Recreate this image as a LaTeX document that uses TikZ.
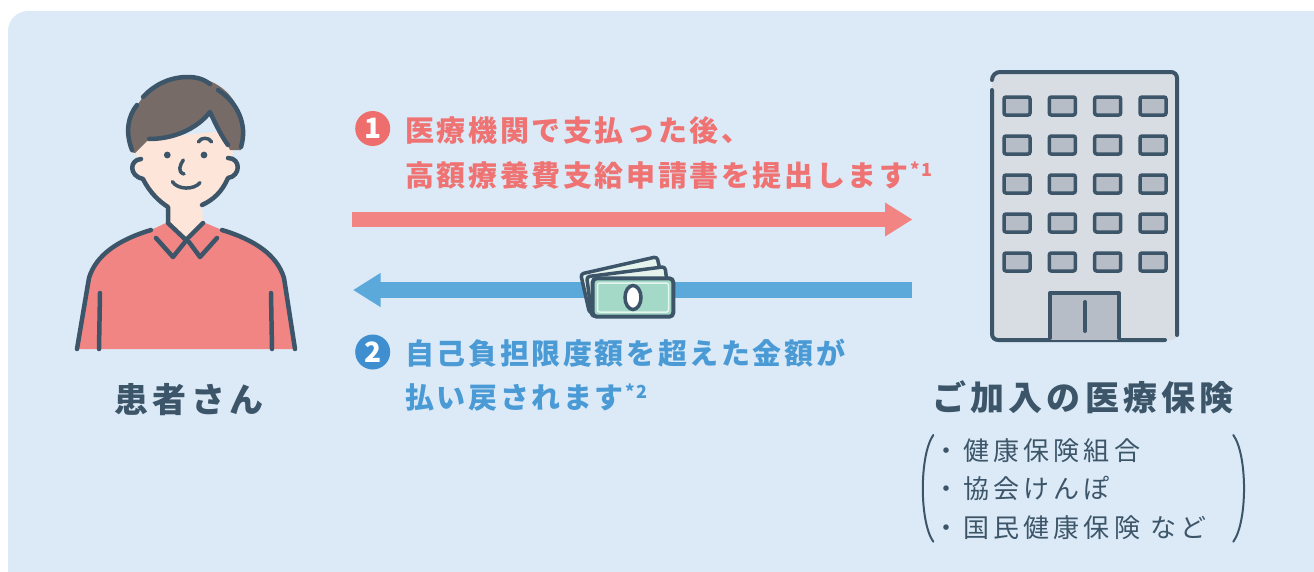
\documentclass[tikz,border=0pt]{standalone}
\usepackage{fontspec}
\usetikzlibrary{arrows.meta}
\newfontfamily\jpmain{Noto Sans CJK JP}[LetterSpace=9]
\newfontfamily\jpwide{Noto Sans CJK JP}[LetterSpace=12]
\newfontfamily\jplist{Noto Sans CJK JP}[LetterSpace=16]
\newfontfamily\jpnum{Noto Sans CJK JP}

\definecolor{bgblue}{HTML}{DBEAF6}
\definecolor{pinkarrow}{HTML}{F28584}
\definecolor{pinktext}{HTML}{EF7373}
\definecolor{pinkdot}{HTML}{EE6E6E}
\definecolor{bluearrow}{HTML}{5BA8DB}
\definecolor{bluetext}{HTML}{4A9AD6}
\definecolor{bluedot}{HTML}{3E8ED0}
\definecolor{ink}{HTML}{3C5569}
\definecolor{hair}{HTML}{776B67}
\definecolor{skin}{HTML}{FDE6D9}
\definecolor{shirt}{HTML}{F18584}
\definecolor{bldg}{HTML}{D8DCE3}
\definecolor{win}{HTML}{B6BDC7}
\definecolor{mint}{HTML}{A5D9C7}
\definecolor{billback}{HTML}{E6F3EC}

\tikzset{
  outline/.style={draw=ink, line width=4.5pt, line cap=round, line join=round},
  bline/.style={draw=ink, line width=4pt, line cap=round, line join=round},
  window/.style={draw=ink, fill=win, line width=3.5pt, rounded corners=2pt},
  steptext/.style={anchor=base west, inner sep=0pt, font=\jpmain\bfseries\fontsize{29}{35}\selectfont},
  numdot/.style={circle, minimum size=35pt, inner sep=0pt, text=white, font=\jpnum\bfseries\fontsize{28}{28}\selectfont},
  listtext/.style={anchor=base west, inner sep=0pt, text=ink, font=\jplist\fontsize{26}{26}\selectfont},
  fatarrow/.style={line cap=butt, -{Triangle[length=27.5pt 0, width=32pt 0]}},
}
\newcommand{\notemark}[1]{\hspace{2pt}\raisebox{10pt}{\fontsize{18}{18}\selectfont *#1}}

\begin{document}
\begin{tikzpicture}[x=1pt, y=-1pt]
\useasboundingbox (0,0) rectangle (1314,571);
% panel
\fill[bgblue, rounded corners=20pt] (8,11) rectangle (1345,600);

% ---------- patient ----------
% shirt
\fill[shirt] (77,349) -- (89,278) .. controls (96,255) and (118,240) .. (151,230)
  -- (168,222) -- (186,240) -- (203,222) -- (222,230)
  .. controls (255,240) and (277,255) .. (284,278) -- (295,349) -- cycle;
% face and neck
\fill[skin] (134,140) -- (137,158) .. controls (128,160) and (128,176) .. (143,179)
  .. controls (150,193) and (160,202) .. (168,207) -- (168,222) -- (186,240) -- (203,222)
  -- (202,205) .. controls (214,199) and (222,190) .. (228,178)
  .. controls (241,176) and (241,159) .. (232,158) -- (236,130) -- cycle;
% hair
\fill[hair] (131,152) .. controls (122,118) and (145,77) .. (185,77)
  .. controls (228,76) and (250,112) .. (241,150) -- (230,150)
  .. controls (222,134) and (215,120) .. (210,112)
  .. controls (192,132) and (166,140) .. (149,139) -- (135,153) -- cycle;
% hair outline with small breaks
\draw[outline] (132,150) .. controls (125,132) and (128,116) .. (137,105);
\draw[outline] (143,97) .. controls (156,83) and (172,77) .. (188,77) .. controls (198,77) and (205,80) .. (210,84);
\draw[outline] (218,90) .. controls (237,102) and (248,124) .. (241,147);
\draw[outline] (149,139) .. controls (172,139) and (196,130) .. (210,112) .. controls (216,125) and (222,137) .. (228,145);
% face outline
\draw[outline] (141,159) .. controls (129,160) and (129,176) .. (143,179)
  .. controls (150,193) and (160,202) .. (168,207) -- (168,222);
\draw[outline] (228,158) .. controls (241,158) and (241,176) .. (228,178)
  .. controls (222,192) and (213,200) .. (202,205);
% collar
\draw[outline] (168,223) -- (186,240) -- (203,223);
\draw[outline] (156,238) -- (173,257) -- (185,242);
\draw[outline] (189,242) -- (200,257) -- (217,238);
% shoulders and arms
\draw[outline] (151,230) .. controls (118,240) and (96,255) .. (89,278) -- (77,349);
\draw[outline] (222,230) .. controls (255,240) and (277,255) .. (284,278) -- (295,349);
\draw[outline] (100,293) -- (99,349);
\draw[outline] (271,293) -- (272,349);
% face details
\fill[ink] (167.3,155) circle (3.4pt) (204,155) circle (3.4pt);
\draw[outline, line width=3.5pt] (198.3,142) .. controls (201,137) and (209,137) .. (211.7,142);
\draw[outline, line width=3.5pt] (183.3,160) .. controls (180,165) and (177,172) .. (184,174);
\draw[outline, line width=3.5pt] (172.3,181.7) .. controls (178,190) and (194,190) .. (200,182.7);

\node[anchor=base, inner sep=0pt, text=ink, font=\jpwide\bfseries\fontsize{34}{34}\selectfont] (patient) at (189,412.5) {患者さん};

% ---------- insurer building ----------
\fill[bldg, rounded corners=6pt] (992,72) rectangle (1177,340);
\draw[bline] (992,90) -- (992,334) arc[start angle=180, end angle=270, radius=6pt] -- (1165,340);
\draw[bline] (992,80) arc[start angle=180, end angle=90, radius=8pt] -- (1171,72)
  arc[start angle=90, end angle=0, radius=6pt] -- (1177,335);
\foreach \cx in {1004,1049.3,1094.7,1140}
  \foreach \cy in {97,136,175,214,253}
    \draw[window] (\cx,\cy) rectangle ++(26,18);
\fill[win] (1050,293) rectangle (1119,340);
\draw[bline] (1050,338) -- (1050,293) -- (1119,293) -- (1119,338);
\draw[bline] (1085,302) -- (1085,331);

\node[anchor=base, inner sep=0pt, text=ink, font=\jpwide\bfseries\fontsize{34}{34}\selectfont] (insurer) at (1083,410.5) {ご加入の医療保険};

\node[listtext] (kind1) at (933,460.5) {・健康保険組合};
\node[listtext] (kind2) at (933,498.5) {・協会けんぽ};
\node[listtext] (kind3) at (933,537) {・国民健康保険 など};
\draw[ink, line width=2pt, line cap=round] (933.3,435) .. controls (919.3,455) and (919.3,522) .. (933.3,541.7);
\draw[ink, line width=2pt, line cap=round] (1233.3,435) .. controls (1247.6,455) and (1247.6,522) .. (1233.3,541.7);

% ---------- step 1: application ----------
\node[numdot, fill=pinkdot] (n1) at (372.7,128.5) {1};
\node[steptext, text=pinktext] (s1a) at (405,141.4) {医療機関で支払った後、};
\node[steptext, text=pinktext] (s1b) at (405,186.5) {高額療養費支給申請書を提出します\notemark{1}};
\coordinate (sendfrom) at (352,219.5);
\coordinate (sendto) at (912.5,219.5);
\draw[pinkarrow, line width=15.5pt, fatarrow] (sendfrom) -- (sendto);

% ---------- step 2: refund ----------
\coordinate (payfrom) at (912,290);
\coordinate (payto) at (353,290);
\draw[bluearrow, line width=16pt, fatarrow] (payfrom) -- (payto);
\node[numdot, fill=bluedot] (n2) at (372.7,352) {2};
\node[steptext, text=bluetext] (s2a) at (405,364) {自己負担限度額を超えた金額が};
\node[steptext, text=bluetext] (s2b) at (405,408.5) {払い戻されます\notemark{2}};

% bank notes
\draw[bline, fill=billback, rounded corners=3pt, line width=3.5pt]
  (580.7,274) -- (657,256.7) -- (665.8,295.7) -- (589.5,313) -- cycle;
\draw[bline, fill=billback, rounded corners=3pt, line width=3.5pt]
  (586.7,276.7) -- (665,266.7) -- (670.1,306.4) -- (591.8,316.4) -- cycle;
\draw[bline, fill=mint, rounded corners=4pt] (592.7,278.3) rectangle (673.3,316.7);
\draw[white!70!mint, line width=1.5pt, rounded corners=2pt] (597.5,283) rectangle (668.5,312);
\draw[ink, line width=3.5pt, fill=white] (633,297.5) ellipse [x radius=8pt, y radius=12pt];
\end{tikzpicture}
\end{document}
